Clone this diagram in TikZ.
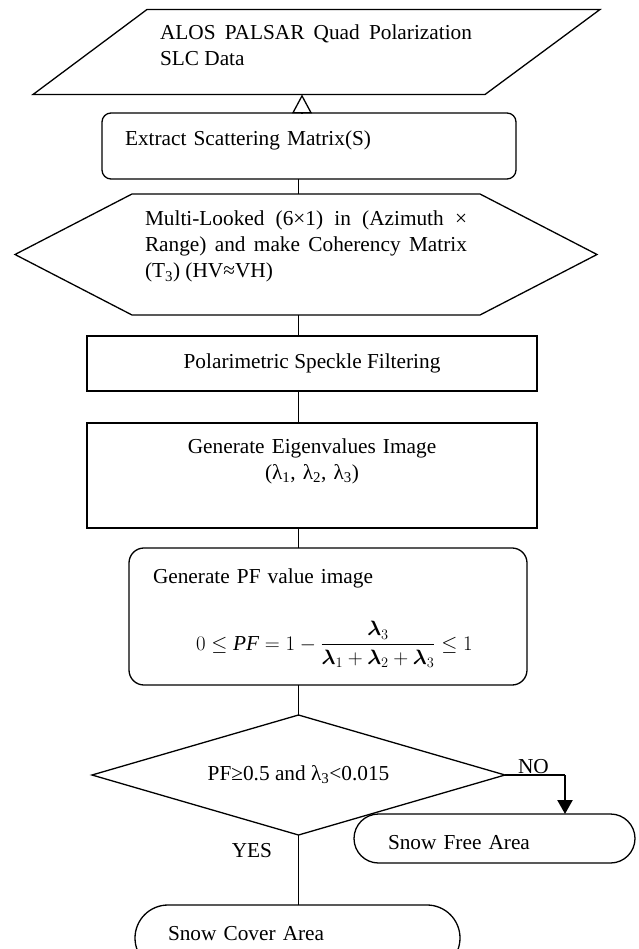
\documentclass[tikz,border=0pt]{standalone}
\usepackage{fontspec}
\setmainfont{Liberation Serif}
\usepackage{amsmath}
\usetikzlibrary{arrows.meta, shapes.geometric}
\lineskiplimit=-50pt
\newcommand{\sizestrut}[2]{\rule[-#2]{0pt}{\dimexpr #1+#2\relax}}
\tikzstyle{flowLine} = [line width=1.3pt]
\tikzstyle{textOnly} = [inner ysep=0pt, outer sep=0pt, font=\fontsize{21.3}{26}\selectfont]
\tikzstyle{procBox} = [textOnly, draw, rectangle, line width=1.3pt]
\tikzstyle{roundBox} = [procBox, rounded corners=9pt]
\tikzstyle{decBox} = [textOnly, draw, diamond, aspect=3.44, inner xsep=0pt, line width=1.3pt]
\tikzstyle{noArrow} = [line width=2.3pt, -{Triangle[length=14pt, width=15pt]}]
\tikzstyle{upArrow} = [flowLine, -{Triangle[open, length=19pt, width=20pt]}]

\begin{document}
\begin{tikzpicture}[x=1pt, y=-1pt]
  \useasboundingbox (0,0) rectangle (638,949);
  \node[textOnly, text width=312pt, inner xsep=13pt, align=justify] (data) at (316,52)
    {\sizestrut{30pt}{0pt}ALOS PALSAR Quad Polarization\linebreak SLC Data\sizestrut{0pt}{29pt}};
  \node[roundBox, text width=368pt, inner xsep=23pt, align=left] (extract) at (309,146)
    {\sizestrut{33pt}{33pt}Extract Scattering Matrix(S)};
  \node[textOnly, text width=322pt, inner xsep=13pt, align=justify] (hex) at (306,254.5)
    {\sizestrut{32pt}{0pt}Multi-Looked (6×1) in (Azimuth ×\linebreak Range) and make Coherency Matrix\linebreak (T\textsubscript{3}) (HV≈VH)\sizestrut{0pt}{37pt}};
  \node[procBox, minimum width=450pt] (filter) at (312,363.5)
    {\sizestrut{32pt}{23pt}Polarimetric Speckle Filtering};
  \node[procBox, text width=420pt, inner xsep=15pt, align=center] (eigen) at (312,475.5)
    {\sizestrut{30pt}{0pt}Generate Eigenvalues Image\\(λ\textsubscript{1}, λ\textsubscript{2}, λ\textsubscript{3})\sizestrut{0pt}{49pt}};
  \node[roundBox, rounded corners=15pt, text width=350pt, inner xsep=24pt, align=left] (pf) at (328,616.5)
    {\sizestrut{36pt}{0pt}Generate PF value image\\[32pt]\hspace*{43pt}$\displaystyle 0\leq \textit{PF}=1-\frac{\boldsymbol{\lambda}_3}{\boldsymbol{\lambda}_1+\boldsymbol{\lambda}_2+\boldsymbol{\lambda}_3}\leq 1$\sizestrut{0pt}{35pt}};
  \node[decBox, minimum width=413pt, minimum height=120pt] (dec) at (298.5,775)
    {PF≥0.5 and λ\textsubscript{3}<0.015};
  \node[roundBox, rounded corners=24.5pt, text width=213pt, inner xsep=34pt, align=left] (free) at (494.5,838.5)
    {\sizestrut{35pt}{14pt}Snow Free Area};
  \node[roundBox, rounded corners=33pt, text width=259pt, inner xsep=33pt, align=left] (cover) at (297.5,938)
    {\sizestrut{35pt}{31pt}Snow Cover Area};

  % outlines of the data and preparation shapes
  \draw[flowLine] (data.north west) -- ([xshift=115pt]data.north east) -- (data.south east)
    -- ([xshift=-114pt]data.south west) -- cycle;
  \draw[flowLine] (hex.north west) -- (hex.north east) -- ([xshift=117pt]hex.east)
    -- (hex.south east) -- (hex.south west) -- ([xshift=-117pt]hex.west) -- cycle;

  % connectors
  \coordinate (spine) at (dec.north);
  \draw[upArrow] ([xshift=-7pt]extract.north) -- ([xshift=-14pt]data.south);
  \draw[flowLine] (extract.south -| spine) -- (hex.north -| spine);
  \draw[flowLine] (hex.south -| spine) -- (filter.north -| spine);
  \draw[flowLine] (filter.south -| spine) -- (eigen.north -| spine);
  \draw[flowLine] (eigen.south -| spine) -- (pf.north -| spine);
  \draw[flowLine] (pf.south -| spine) -- (dec.north);
  \draw[flowLine] (dec.south) -- (cover.north -| dec.south);
  \coordinate (nobend) at ([xshift=60pt]dec.east);
  \draw[flowLine] (dec.east) -- (nobend);
  \draw[noArrow] (nobend) -- (nobend |- free.north);

  \node[textOnly, inner xsep=0pt, anchor=base west] (nolbl) at ([xshift=13pt, yshift=2pt]dec.east) {NO};
  \node[textOnly, inner xsep=0pt, anchor=base east] (yeslbl) at ([xshift=-26.5pt, yshift=-22pt]dec.south) {YES};
\end{tikzpicture}
\end{document}
